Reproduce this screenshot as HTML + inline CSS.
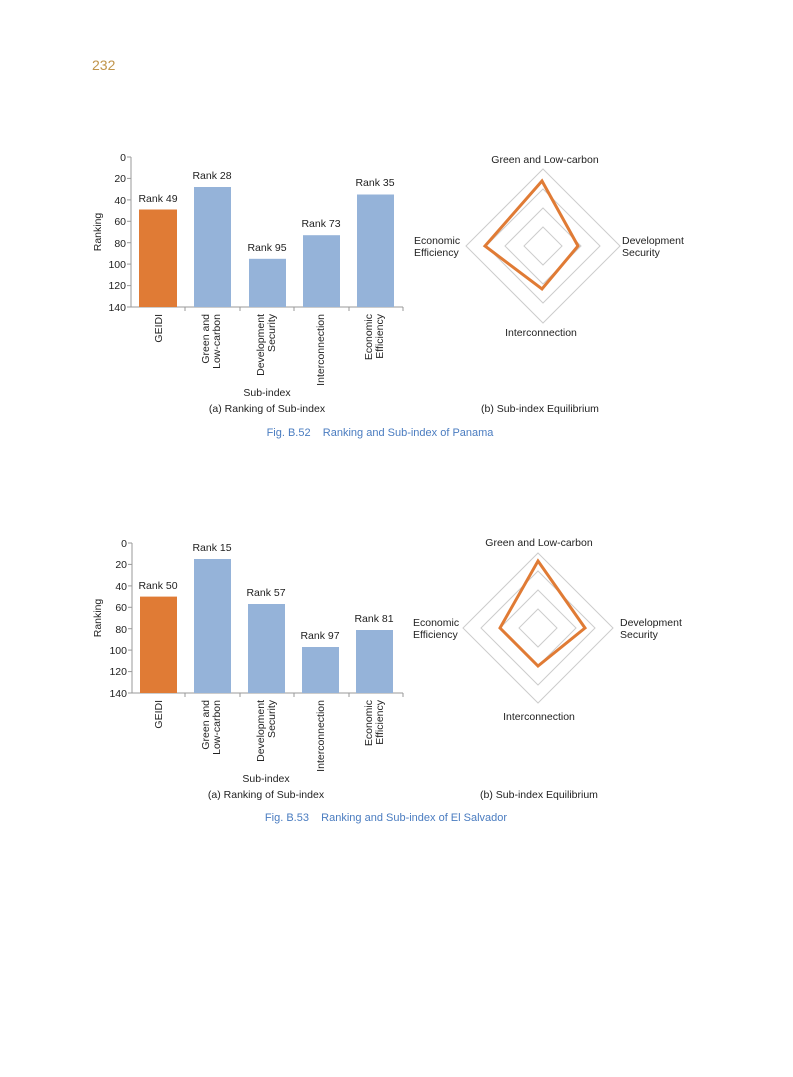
<!DOCTYPE html>
<html><head><meta charset="utf-8"><style>
html,body{margin:0;padding:0;background:#fff;}
svg{display:block;font-family:"Liberation Sans",sans-serif;}
</style></head><body>
<svg width="793" height="1077" viewBox="0 0 793 1077" xmlns="http://www.w3.org/2000/svg">
<text x="92" y="70" font-size="14" fill="#c0944a">232</text>

<!-- Chart 1 bars -->
<g font-size="10.5" fill="#222">
<line x1="131" y1="157" x2="131" y2="307" stroke="#999"/>
<line x1="131" y1="307" x2="403" y2="307" stroke="#999"/>
<g stroke="#999"><line x1="127" y1="157" x2="131" y2="157"/><line x1="127" y1="178.4" x2="131" y2="178.4"/><line x1="127" y1="199.9" x2="131" y2="199.9"/><line x1="127" y1="221.3" x2="131" y2="221.3"/><line x1="127" y1="242.7" x2="131" y2="242.7"/><line x1="127" y1="264.1" x2="131" y2="264.1"/><line x1="127" y1="285.6" x2="131" y2="285.6"/><line x1="127" y1="307" x2="131" y2="307"/>
<line x1="185" y1="307" x2="185" y2="311"/><line x1="240" y1="307" x2="240" y2="311"/><line x1="294" y1="307" x2="294" y2="311"/><line x1="349" y1="307" x2="349" y2="311"/><line x1="403" y1="307" x2="403" y2="311"/></g>
<g text-anchor="end"><text x="126" y="161">0</text><text x="126" y="182">20</text><text x="126" y="204">40</text><text x="126" y="225">60</text><text x="126" y="247">80</text><text x="126" y="268">100</text><text x="126" y="289">120</text><text x="126" y="311">140</text></g>
<text transform="translate(101,232) rotate(-90)" text-anchor="middle">Ranking</text>
<rect x="139" y="209.5" width="38" height="97.5" fill="#e07b35"/>
<rect x="194" y="187" width="37" height="120" fill="#95b3d9"/>
<rect x="249" y="258.8" width="37" height="48.2" fill="#95b3d9"/>
<rect x="303" y="235.2" width="37" height="71.8" fill="#95b3d9"/>
<rect x="357" y="194.5" width="37" height="112.5" fill="#95b3d9"/>
<g text-anchor="middle"><text x="158" y="202">Rank 49</text><text x="212" y="179">Rank 28</text><text x="267" y="251">Rank 95</text><text x="321" y="227">Rank 73</text><text x="375" y="186">Rank 35</text></g>
<g text-anchor="end">
<text transform="translate(162,314) rotate(-90)">GEIDI</text>
<text transform="translate(209,314) rotate(-90)">Green and</text><text transform="translate(220,314) rotate(-90)">Low-carbon</text>
<text transform="translate(264,314) rotate(-90)">Development</text><text transform="translate(275,314) rotate(-90)">Security</text>
<text transform="translate(324,314) rotate(-90)">Interconnection</text>
<text transform="translate(372,314) rotate(-90)">Economic</text><text transform="translate(383,314) rotate(-90)">Efficiency</text>
</g>
<text x="267" y="396" text-anchor="middle">Sub-index</text>
<text x="267" y="412" text-anchor="middle">(a) Ranking of Sub-index</text>
</g>
<!-- Radar 1 -->
<g fill="none" stroke="#ccc" stroke-width="1">
<polygon points="543,227 562,246 543,265 524,246"/>
<polygon points="543,208 581,246 543,284 505,246"/>
<polygon points="543,189 600,246 543,303 486,246"/>
<polygon points="543,169 620,246 543,323 466,246"/>
</g>
<polygon points="542,181 578,246 542,289 485,246" fill="none" stroke="#e07b35" stroke-width="3"/>
<g font-size="10.5" fill="#222">
<text x="545" y="163" text-anchor="middle">Green and Low-carbon</text>
<text x="414" y="244">Economic</text><text x="414" y="256">Efficiency</text>
<text x="622" y="244">Development</text><text x="622" y="256">Security</text>
<text x="541" y="336" text-anchor="middle">Interconnection</text>
<text x="540" y="412" text-anchor="middle">(b) Sub-index Equilibrium</text>
</g>
<text x="380" y="436" text-anchor="middle" font-size="11" fill="#4a7cc0">Fig. B.52&#160;&#160;&#160;&#160;Ranking and Sub-index of Panama</text>

<!-- Chart 2 bars -->
<g font-size="10.5" fill="#222">
<line x1="132" y1="543" x2="132" y2="693" stroke="#999"/>
<line x1="132" y1="693" x2="403" y2="693" stroke="#999"/>
<g stroke="#999"><line x1="128" y1="543" x2="132" y2="543"/><line x1="128" y1="564.4" x2="132" y2="564.4"/><line x1="128" y1="585.9" x2="132" y2="585.9"/><line x1="128" y1="607.3" x2="132" y2="607.3"/><line x1="128" y1="628.7" x2="132" y2="628.7"/><line x1="128" y1="650.1" x2="132" y2="650.1"/><line x1="128" y1="671.6" x2="132" y2="671.6"/><line x1="128" y1="693" x2="132" y2="693"/>
<line x1="185" y1="693" x2="185" y2="697"/><line x1="240" y1="693" x2="240" y2="697"/><line x1="294" y1="693" x2="294" y2="697"/><line x1="349" y1="693" x2="349" y2="697"/><line x1="403" y1="693" x2="403" y2="697"/></g>
<g text-anchor="end"><text x="127" y="547">0</text><text x="127" y="568">20</text><text x="127" y="590">40</text><text x="127" y="611">60</text><text x="127" y="633">80</text><text x="127" y="654">100</text><text x="127" y="675">120</text><text x="127" y="697">140</text></g>
<text transform="translate(101,618) rotate(-90)" text-anchor="middle">Ranking</text>
<rect x="140" y="596.6" width="37" height="96.4" fill="#e07b35"/>
<rect x="194" y="559" width="37" height="134" fill="#95b3d9"/>
<rect x="248" y="604" width="37" height="89" fill="#95b3d9"/>
<rect x="302" y="647" width="37" height="46" fill="#95b3d9"/>
<rect x="356" y="630" width="37" height="63" fill="#95b3d9"/>
<g text-anchor="middle"><text x="158" y="589">Rank 50</text><text x="212" y="551">Rank 15</text><text x="266" y="596">Rank 57</text><text x="320" y="639">Rank 97</text><text x="374" y="622">Rank 81</text></g>
<g text-anchor="end">
<text transform="translate(162,700) rotate(-90)">GEIDI</text>
<text transform="translate(209,700) rotate(-90)">Green and</text><text transform="translate(220,700) rotate(-90)">Low-carbon</text>
<text transform="translate(264,700) rotate(-90)">Development</text><text transform="translate(275,700) rotate(-90)">Security</text>
<text transform="translate(324,700) rotate(-90)">Interconnection</text>
<text transform="translate(372,700) rotate(-90)">Economic</text><text transform="translate(383,700) rotate(-90)">Efficiency</text>
</g>
<text x="266" y="782" text-anchor="middle">Sub-index</text>
<text x="266" y="798" text-anchor="middle">(a) Ranking of Sub-index</text>
</g>
<!-- Radar 2 -->
<g fill="none" stroke="#ccc" stroke-width="1">
<polygon points="538,609 557,628 538,647 519,628"/>
<polygon points="538,590 576,628 538,666 500,628"/>
<polygon points="538,571 595,628 538,685 481,628"/>
<polygon points="538,553 613,628 538,703 463,628"/>
</g>
<polygon points="538,561 585,628 538,666 500,628" fill="none" stroke="#e07b35" stroke-width="3"/>
<g font-size="10.5" fill="#222">
<text x="539" y="546" text-anchor="middle">Green and Low-carbon</text>
<text x="413" y="626">Economic</text><text x="413" y="638">Efficiency</text>
<text x="620" y="626">Development</text><text x="620" y="638">Security</text>
<text x="539" y="720" text-anchor="middle">Interconnection</text>
<text x="539" y="798" text-anchor="middle">(b) Sub-index Equilibrium</text>
</g>
<text x="386" y="821" text-anchor="middle" font-size="11" fill="#4a7cc0">Fig. B.53&#160;&#160;&#160;&#160;Ranking and Sub-index of El Salvador</text>
</svg>
</body></html>
